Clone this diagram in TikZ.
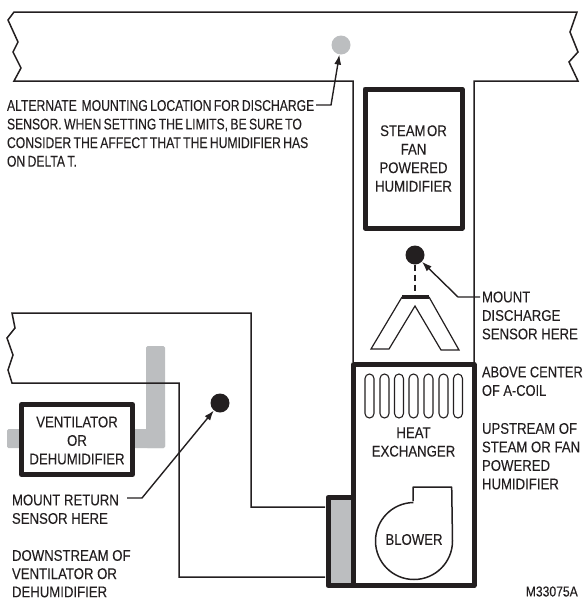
\documentclass[tikz,border=0pt]{standalone}
\usepackage{fontspec}
\setmainfont[FakeStretch=0.85,FakeBold=0.1]{Liberation Sans}
\newfontfamily\tightlabel[FakeStretch=0.785,FakeBold=0.1,WordSpace=0.7]{Liberation Sans}
\newfontfamily\midlabel[FakeStretch=0.83,FakeBold=0.1]{Liberation Sans}
\usetikzlibrary{arrows.meta}
\definecolor{ink}{HTML}{231F20}
\definecolor{greyfill}{HTML}{BCBEC0}
\tikzset{
  thinline/.style={draw=ink,line width=1.5pt,line join=miter},
  slotline/.style={draw=ink,line width=1.1pt},
  thickbox/.style={draw=ink,line width=5pt,line join=round},
  lab/.style={inner sep=0pt,outer sep=0pt,text=ink,font=\fontsize{15.5}{18.5}\selectfont,align=left,anchor=north west},
  clab/.style={inner sep=0pt,outer sep=0pt,text=ink,font=\fontsize{15.5}{18.5}\selectfont,align=center},
  dot/.style={circle,inner sep=0pt,minimum size=19pt},
  leader/.style={draw=ink,line width=1.4pt,-{Latex[length=10pt,width=7pt]}},
  greybar/.style={fill=greyfill,rounded corners=1.5pt}
}
\begin{document}
\begin{tikzpicture}[x=1pt,y=-1pt]
\useasboundingbox (0,0) rectangle (584,600);
% ducts
\draw[thinline] (474,362) -- (474,81) -- (578,81) -- (569,62) -- (578,52) -- (570,32) -- (577,12) -- (14,12) -- (8,20) -- (18,42) -- (13,52) -- (21,68) -- (14,81) -- (353,81) -- (353,362);
% grey ducting
\fill[greybar] (146,346) rectangle (165,448);
\fill[greybar] (120,429) rectangle (165,448);
\fill[greybar] (7,429) rectangle (30,448);
% return duct
\draw[thinline] (325,507) -- (251,507) -- (251,313) -- (12,313) -- (15,328) -- (7,338) -- (13,355) -- (8,370) -- (12,383) -- (179,383) -- (179,577) -- (325,577);
% boxes
\node[thickbox,fill=white,minimum width=111pt,minimum height=70pt,inner sep=0pt] (vent) at (77,439.5) {};
\node[clab] (ventt) at (77,440.5) {VENTILATOR\\OR\\DEHUMIDIFIER};
\node[thickbox,fill=white,minimum width=97pt,minimum height=139pt,inner sep=0pt] (hum) at (413.5,158.5) {};
\node[clab] (humt) at (413.5,158.5) {STEAM\kern1.5pt OR\\FAN\\POWERED\\HUMIDIFIER};
% furnace
\draw[thickbox,fill=white] (353.5,364.5) rectangle (474,585.5);
\draw[thickbox,fill=greyfill] (328,497.5) rectangle (353.5,585.5);
% heat exchanger slots
\foreach \x in {369.5,384.5,399,413.5,428.5,443.5,458}{
  \draw[slotline,rounded corners=4.5pt] (\x-4.5,374) rectangle (\x+4.5,418);
}
\node[clab] (hx) at (413.5,442) {HEAT\\EXCHANGER};
% blower
\draw[thinline,line join=round] (413,501) -- (413,487) -- (451.7,487) -- (452.5,541) arc[start angle=0,end angle=269,radius=38.5] ;
\node[clab] (blower) at (414,539.5) {BLOWER};
% a-coil
\draw[thinline,line width=1.2pt] (402,297) -- (371,349) -- (389,349) -- (415,306) -- (441,350) -- (459,350) -- (429,297);
\draw[draw=ink,line width=3.5pt] (402,297) -- (429,297);
% sensors
\node[dot,fill=greyfill] (alt) at (341,45) {};
\node[dot,fill=ink] (dis) at (415,255) {};
\node[dot,fill=ink] (ret) at (220,403) {};
\draw[draw=ink,line width=1.4pt,dash pattern=on 6pt off 4pt] (dis.south) -- (415,296);
% labels
\node[lab,font=\tightlabel\fontsize{15.5}{18.6}\selectfont] (altl) at (7,100) {ALTERNATE \ MOUNTING LOCATION FOR DISCHARGE\\SENSOR. WHEN SETTING THE LIMITS, BE SURE TO\\CONSIDER THE AFFECT THAT THE HUMIDIFIER HAS\\ON DELTA T.};
\node[lab] (m1) at (482,291.5) {MOUNT\\DISCHARGE\\SENSOR HERE};
\node[lab,font=\midlabel\fontsize{15.5}{18.5}\selectfont] (m2) at (482,366.5) {ABOVE CENTER\\OF A-COIL};
\node[lab] (m3) at (482,423) {UPSTREAM OF\\STEAM OR FAN\\POWERED\\HUMIDIFIER};
\node[lab] (r1) at (12,494.5) {MOUNT RETURN\\SENSOR HERE};
\node[lab,font=\fontsize{15.5}{18.2}\selectfont] (r2) at (12,550) {DOWNSTREAM OF\\VENTILATOR OR\\DEHUMIDIFIER};
\node[inner sep=0pt,text=ink,font=\fontsize{14.3}{16}\selectfont,anchor=east] (code) at (578,591.5) {M33075A};
% leaders
\coordinate (a0) at (316,105); \coordinate (a1) at (331,105);
\draw[leader] (a0) -- (a1) -- (alt);
\coordinate (b0) at (480,297); \coordinate (b1) at (458,297);
\draw[leader] (b0) -- (b1) -- (dis);
\coordinate (c0) at (127,498); \coordinate (c1) at (142,498);
\draw[leader] (c0) -- (c1) -- (ret);
\end{tikzpicture}
\end{document}
